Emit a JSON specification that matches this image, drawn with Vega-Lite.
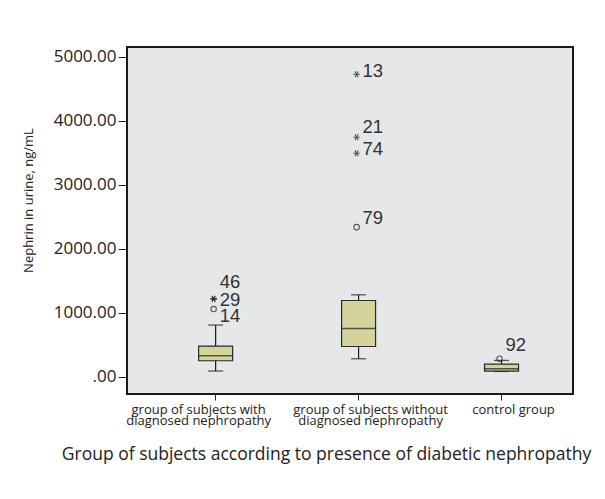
{
  "$schema": "https://vega.github.io/schema/vega-lite/v6.json",
  "width": 446,
  "height": 347,
  "autosize": "none",
  "padding": {"left": 127, "top": 47, "right": 32, "bottom": 105},
  "background": "white",
  "config": {
    "view": {"fill": "#e6e7e9", "stroke": "#1a1a1a", "strokeWidth": 2},
    "axis": {"grid": false, "domain": false, "tickColor": "#222", "labelColor": "#222", "titleColor": "#222", "labelFont": "Open Sans", "titleFont": "Open Sans", "titleFontWeight": "normal"}
  },
  "datasets": {
    "boxes": [
      {"group": "group of subjects with diagnosed nephropathy", "lower": 89, "q1": 250, "median": 328, "q3": 480, "upper": 808},
      {"group": "group of subjects without diagnosed nephropathy", "lower": 281, "q1": 473, "median": 755, "q3": 1192, "upper": 1281},
      {"group": "control group", "lower": 83, "q1": 89, "median": 125, "q3": 198, "upper": 255}
    ],
    "outliers": [
      {"group": "group of subjects with diagnosed nephropathy", "case": "46", "value": 1222, "kind": "extreme", "labelAt": 1484},
      {"group": "group of subjects with diagnosed nephropathy", "case": "29", "value": 1214, "kind": "extreme", "labelAt": 1203},
      {"group": "group of subjects with diagnosed nephropathy", "case": "14", "value": 1058, "kind": "outlier", "labelAt": 942},
      {"group": "group of subjects without diagnosed nephropathy", "case": "13", "value": 4730, "kind": "extreme", "labelAt": 4786},
      {"group": "group of subjects without diagnosed nephropathy", "case": "21", "value": 3745, "kind": "extreme", "labelAt": 3911},
      {"group": "group of subjects without diagnosed nephropathy", "case": "74", "value": 3494, "kind": "extreme", "labelAt": 3558},
      {"group": "group of subjects without diagnosed nephropathy", "case": "79", "value": 2339, "kind": "outlier", "labelAt": 2480},
      {"group": "control group", "case": "92", "value": 281, "kind": "outlier", "labelAt": 500}
    ]
  },
  "encoding": {
    "x": {
      "field": "group", "type": "nominal",
      "sort": ["group of subjects with diagnosed nephropathy", "group of subjects without diagnosed nephropathy", "control group"],
      "scale": {"paddingInner": 0, "paddingOuter": 0.06, "align": 1},
      "axis": {
        "title": "Group of subjects according to presence of diabetic nephropathy",
        "titleFontSize": 17.5, "titleX": 199, "titleY": 60, "titleBaseline": "middle", "titleAlign": "center", "titleAnchor": null,
        "labelAngle": 0, "labelFontSize": 13, "labelLineHeight": 11.5, "labelPadding": 3, "tickSize": 6,
        "labelOffset": {"condition": {"test": "datum.value == 'group of subjects with diagnosed nephropathy'", "value": -17}, "value": 12},
        "labelExpr": "datum.value == 'group of subjects with diagnosed nephropathy' ? ['group of subjects with', 'diagnosed nephropathy'] : datum.value == 'group of subjects without diagnosed nephropathy' ? ['group of subjects without', 'diagnosed nephropathy'] : datum.value"
      }
    }
  },
  "layer": [
    {
      "data": {"name": "boxes"},
      "mark": {"type": "rule", "color": "#1a1a1a", "strokeWidth": 1.2},
      "encoding": {
        "y": {"field": "lower", "type": "quantitative",
          "scale": {"domain": [-270, 5156], "nice": false, "zero": false},
          "axis": {"title": "Nephrin in urine, ng/mL", "values": [0, 1000, 2000, 3000, 4000, 5000],
            "labelExpr": "datum.value == 0 ? '.00' : format(datum.value, '.2f')",
            "labelFontSize": 17, "labelPadding": 2, "tickSize": 9,
            "titleFontSize": 13, "titleX": -99, "titleY": 153, "titleBaseline": "middle", "titleAlign": "center", "titleAnchor": null}},
        "y2": {"field": "upper"}
      }
    },
    {
      "data": {"name": "boxes"},
      "mark": {"type": "tick", "color": "#1a1a1a", "thickness": 1.3, "size": 15},
      "encoding": {"y": {"field": "upper", "type": "quantitative"}}
    },
    {
      "data": {"name": "boxes"},
      "mark": {"type": "tick", "color": "#1a1a1a", "thickness": 1.3, "size": 15},
      "encoding": {"y": {"field": "lower", "type": "quantitative"}}
    },
    {
      "data": {"name": "boxes"},
      "mark": {"type": "bar", "width": 34, "fill": "#d3d39b", "stroke": "#2a2a2a", "strokeWidth": 1.2},
      "encoding": {"y": {"field": "q1", "type": "quantitative"}, "y2": {"field": "q3"}}
    },
    {
      "data": {"name": "boxes"},
      "mark": {"type": "tick", "color": "#1a1a1a", "thickness": 1.6, "size": 34},
      "encoding": {"y": {"field": "median", "type": "quantitative"}}
    },
    {
      "data": {"name": "outliers"},
      "mark": {"type": "point", "filled": false, "strokeWidth": 1.1, "color": "#1a1a1a", "xOffset": -2},
      "encoding": {
        "y": {"field": "value", "type": "quantitative"},
        "shape": {"field": "kind", "type": "nominal", "legend": null,
          "scale": {"domain": ["outlier", "extreme"], "range": ["circle", "M -1 0 L 1 0 M -0.5 -0.87 L 0.5 0.87 M -0.5 0.87 L 0.5 -0.87"]}},
        "size": {"field": "kind", "type": "nominal", "legend": null,
          "scale": {"domain": ["outlier", "extreme"], "range": [30, 45]}}
      }
    },
    {
      "data": {"name": "outliers"},
      "mark": {"type": "text", "align": "left", "baseline": "middle", "dx": 4, "font": "Liberation Sans", "fontSize": 18.5, "color": "#333"},
      "encoding": {
        "y": {"field": "labelAt", "type": "quantitative"},
        "text": {"field": "case"}
      }
    }
  ]
}
